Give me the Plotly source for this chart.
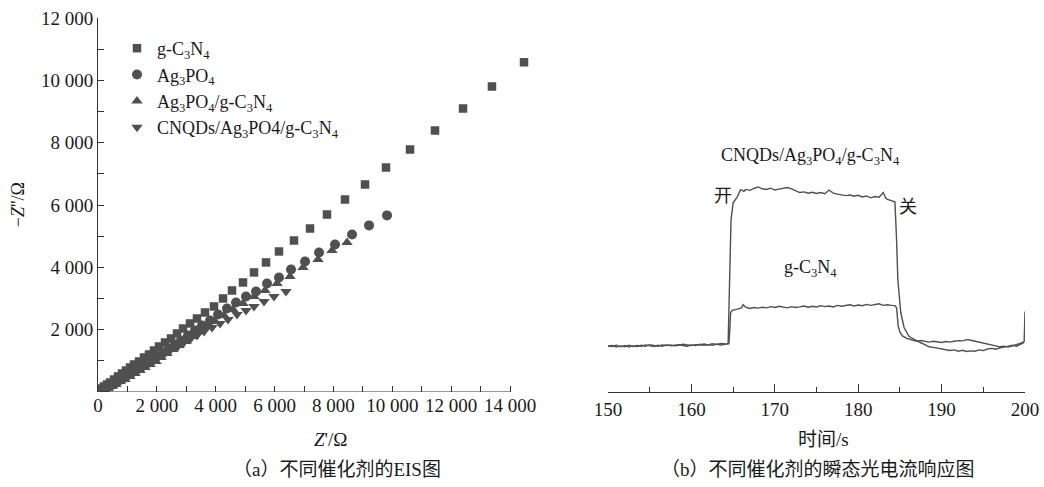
import plotly.graph_objects as go

# ---------------- (a) EIS Nyquist data ----------------
gcn_zre = [14475, 13386, 12403, 11451, 10602, 9786, 9073, 8393, 7781, 7204, 6660, 6150,
           5709, 5301, 4927, 4553, 4248, 3942, 3636, 3364, 3126, 2888, 2684, 2480, 2277,
           2073, 1903, 1733, 1563, 1393, 1223, 1087, 951, 816, 680, 544, 408, 306, 204, 102]
gcn_zim = [10577, 9806, 9100, 8394, 7784, 7206, 6661, 6180, 5698, 5248, 4863, 4510,
           4157, 3836, 3515, 3258, 3001, 2745, 2552, 2359, 2199, 2038, 1878, 1717, 1589,
           1461, 1332, 1204, 1107, 979, 883, 786, 690, 594, 498, 401, 305, 241, 177, 112]

ag_zre = [9820, 9209, 8631, 8053, 7510, 7034, 6558, 6150, 5743, 5369, 5029, 4689, 4383,
          4078, 3806, 3534, 3296, 3058, 2820, 2616, 2413, 2209, 2005, 1835, 1665, 1495,
          1325, 1155, 985, 849, 714, 578, 442, 306, 170, 68]
ag_zim = [5666, 5345, 5056, 4735, 4478, 4189, 3932, 3676, 3483, 3226, 3066, 2873, 2680,
          2488, 2295, 2135, 1974, 1814, 1653, 1525, 1396, 1268, 1140, 1011, 915, 819,
          722, 626, 530, 433, 369, 273, 209, 144, 80, 48]

aggcn_zre = [8461, 7951, 7476, 6966, 6524, 6082, 5675, 5301, 4927, 4587, 4281, 3976, 3704,
             3466, 3228, 2990, 2752, 2548, 2345, 2141, 1971, 1767, 1597, 1427, 1257, 1087,
             917, 748, 612, 476, 340, 204, 102]
aggcn_zim = [4799, 4542, 4253, 3996, 3707, 3483, 3258, 3066, 2841, 2648, 2456, 2263, 2102,
             1942, 1782, 1621, 1493, 1364, 1236, 1107, 979, 883, 786, 690, 594, 498,
             401, 337, 241, 177, 112, 48, 16]

cnqd_zre = [6388, 5981, 5641, 5301, 5029, 4723, 4417, 4146, 3874, 3602, 3364, 3126, 2888,
            2684, 2447, 2243, 2039, 1869, 1665, 1495, 1325, 1155, 985, 849, 714, 578,
            442, 306, 170, 68]
cnqd_zim = [3226, 3066, 2905, 2745, 2616, 2488, 2327, 2199, 2070, 1942, 1814, 1685, 1557,
            1428, 1332, 1204, 1107, 1011, 915, 819, 722, 626, 530, 465, 369, 305,
            209, 144, 80, 48]

eis_xticks = [0, 2000, 4000, 6000, 8000, 10000, 12000, 14000]
eis_xlabels = ["0", "2 000", "4 000", "6 000", "8 000", "10 000", "12 000", "14 000"]
eis_yticks = [2000, 4000, 6000, 8000, 10000, 12000]
eis_ylabels = ["2 000", "4 000", "6 000", "8 000", "10 000", "12 000"]

# ---------------- (b) transient photocurrent data ----------------
cnqd_t = [150.0, 150.5, 151.0, 151.5, 152.0, 152.5, 153.0, 153.5, 154.0, 154.5, 155.0,
          155.5, 156.0, 156.5, 157.0, 157.5, 158.0, 158.5, 159.0, 159.5, 160.0, 160.5,
          161.0, 161.5, 162.0, 162.5, 163.0, 163.5, 164.0, 164.4,
          164.55, 164.75, 165.0, 165.5, 165.9, 166.3,
          166.5, 167.0, 167.5, 168.0, 168.5, 169.0, 169.5, 170.0, 170.5, 171.0, 171.5,
          172.0, 172.5, 173.0, 173.5, 174.0, 174.5, 175.0, 175.5, 176.0, 176.5, 177.0,
          177.5, 178.0, 178.5, 179.0, 179.5, 180.0, 180.5, 181.0, 181.5, 182.0, 182.5,
          183.0, 183.3, 183.5, 184.0, 184.4,
          184.6, 184.75, 185.1, 185.5, 186.1, 187.1,
          187.5, 188.0, 188.5, 189.0, 189.5, 190.0, 190.5, 191.0, 191.5, 192.0, 192.5,
          193.0, 193.5, 194.0, 194.5, 195.0, 195.5, 196.0, 196.5, 197.0, 197.5, 198.0,
          198.5, 199.0, 199.5, 199.9]
cnqd_i = [1.48, 1.46, 1.50, 1.45, 1.49, 1.44, 1.48, 1.46, 1.50, 1.47, 1.52,
          1.49, 1.47, 1.51, 1.49, 1.51, 1.48, 1.50, 1.53, 1.51, 1.49, 1.52,
          1.51, 1.54, 1.51, 1.55, 1.52, 1.56, 1.54, 1.55,
          3.00, 5.53, 6.07, 6.26, 6.49, 6.44,
          6.50, 6.47, 6.53, 6.58, 6.52, 6.50, 6.54, 6.48, 6.51, 6.53, 6.56,
          6.52, 6.45, 6.40, 6.42, 6.38, 6.41, 6.37, 6.40, 6.36, 6.48, 6.38,
          6.35, 6.33, 6.30, 6.32, 6.28, 6.31, 6.26, 6.29, 6.23, 6.27, 6.25,
          6.40, 6.22, 6.18, 6.14, 6.10,
          4.89, 3.61, 2.55, 2.07, 1.78, 1.62,
          1.58, 1.52, 1.45, 1.43, 1.40, 1.38, 1.36, 1.33, 1.35, 1.31, 1.34,
          1.30, 1.32, 1.31, 1.35, 1.33, 1.38, 1.40, 1.37, 1.42, 1.44, 1.46,
          1.50, 1.47, 1.55, 1.59]

gcn_t = [150.0, 150.5, 151.0, 151.5, 152.0, 152.5, 153.0, 153.5, 154.0, 154.5, 155.0,
         155.5, 156.0, 156.5, 157.0, 157.5, 158.0, 158.5, 159.0, 159.5, 160.0, 160.5,
         161.0, 161.5, 162.0, 162.5, 163.0, 163.5, 164.0, 164.5,
         164.6, 164.7, 164.9, 165.3,
         165.5, 166.0, 166.2, 166.5, 167.0, 167.5, 168.0, 168.5, 169.0, 169.5, 170.0,
         170.5, 171.0, 171.5, 172.0, 172.5, 173.0, 173.5, 174.0, 174.5, 175.0, 175.5,
         176.0, 176.5, 177.0, 177.5, 178.0, 178.5, 179.0, 179.5, 180.0, 180.5, 181.0,
         181.5, 182.0, 182.5, 183.0, 183.5, 184.0, 184.4,
         184.6, 184.8, 185.0, 185.3, 185.8,
         186.5, 187.0, 187.5, 188.0, 188.5, 189.0, 189.5, 190.0, 190.5, 191.0, 191.5,
         192.0, 192.5, 193.0, 193.5, 194.0, 194.5, 195.0, 195.5, 196.0, 196.5, 197.0,
         197.5, 198.0, 198.5, 199.0, 199.5, 199.9, 200.0]
gcn_i = [1.47, 1.49, 1.44, 1.48, 1.45, 1.50, 1.46, 1.49, 1.47, 1.51, 1.48,
         1.46, 1.50, 1.47, 1.51, 1.48, 1.50, 1.52, 1.49, 1.47, 1.51, 1.49,
         1.53, 1.50, 1.52, 1.50, 1.54, 1.51, 1.53, 1.55,
         2.00, 2.55, 2.62, 2.64,
         2.66, 2.70, 2.80, 2.72, 2.68, 2.71, 2.69, 2.72, 2.70, 2.74, 2.71,
         2.75, 2.72, 2.70, 2.74, 2.71, 2.73, 2.76, 2.72, 2.75, 2.73, 2.77,
         2.74, 2.76, 2.73, 2.78, 2.75, 2.77, 2.80, 2.76, 2.79, 2.77, 2.81,
         2.78, 2.80, 2.83, 2.78, 2.80, 2.78, 2.77,
         2.70, 2.10, 1.92, 1.80, 1.72,
         1.66, 1.63, 1.65, 1.62, 1.60, 1.63, 1.61, 1.59, 1.62, 1.60, 1.63,
         1.65, 1.64, 1.68, 1.66, 1.63, 1.60, 1.56, 1.52, 1.49, 1.47, 1.45,
         1.47, 1.44, 1.48, 1.52, 1.57, 1.62, 2.58]

time_ticks = [150, 160, 170, 180, 190, 200]
time_labels = ["150", "160", "170", "180", "190", "200"]

MARK = "#505050"
INK = "#1a1a1a"
AXIS = "#333333"
SERIF = "Liberation Serif, Times New Roman, Noto Sans CJK SC, serif"
CJK = "Liberation Serif, Noto Sans CJK SC, serif"

fig = go.Figure()

fig.add_trace(go.Scatter(x=gcn_zre, y=gcn_zim, mode="markers", name="g-C<sub>3</sub>N<sub>4</sub>",
                         marker=dict(symbol="square", size=8.5, color=MARK),
                         xaxis="x", yaxis="y"))
fig.add_trace(go.Scatter(x=ag_zre, y=ag_zim, mode="markers", name="Ag<sub>3</sub>PO<sub>4</sub>",
                         marker=dict(symbol="circle", size=10, color=MARK), xaxis="x", yaxis="y"))
fig.add_trace(go.Scatter(x=aggcn_zre, y=aggcn_zim, mode="markers",
                         name="Ag<sub>3</sub>PO<sub>4</sub>/g-C<sub>3</sub>N<sub>4</sub>",
                         marker=dict(symbol="triangle-up", size=10, color=MARK), xaxis="x", yaxis="y"))
fig.add_trace(go.Scatter(x=cnqd_zre, y=cnqd_zim, mode="markers",
                         name="CNQDs/Ag<sub>3</sub>PO4/g-C<sub>3</sub>N<sub>4</sub>",
                         marker=dict(symbol="triangle-down", size=10, color=MARK), xaxis="x", yaxis="y"))

fig.add_trace(go.Scatter(x=cnqd_t, y=cnqd_i, mode="lines", showlegend=False,
                         line=dict(color=MARK, width=1.4), xaxis="x2", yaxis="y2"))
fig.add_trace(go.Scatter(x=gcn_t, y=gcn_i, mode="lines", showlegend=False,
                         line=dict(color=MARK, width=1.4), xaxis="x2", yaxis="y2"))

axis_common = dict(showgrid=False, zeroline=False, linecolor=AXIS,
                   linewidth=1, ticks="inside", tickcolor=AXIS,
                   tickfont=dict(family=SERIF, size=19, color=INK))

# the Z' axis leaves room past 14 000 for the last g-C3N4 point; its line stops at 14 000
fig.update_layout(
    width=1044, height=487,
    margin=dict(l=98, r=19, t=18, b=94.5, autoexpand=False),
    paper_bgcolor="white", plot_bgcolor="white",
    showlegend=True,
    legend=dict(x=0.0205, y=0.968, xanchor="left", yanchor="top",
                bgcolor="rgba(0,0,0,0)", tracegroupgap=0, itemwidth=30,
                font=dict(family=SERIF, size=18, color=INK)),
    xaxis=dict(domain=[0, 0.4667], range=[0, 14700], tickvals=eis_xticks, ticktext=eis_xlabels,
               showline=False, ticklen=6,
               minor=dict(tickvals=list(range(1000, 14000, 2000)), ticklen=6, ticks="inside",
                          tickcolor=AXIS),
               anchor="y", **axis_common),
    yaxis=dict(domain=[0, 1], range=[0, 12000], tickvals=eis_yticks, ticktext=eis_ylabels,
               showline=True, ticklen=6,
               minor=dict(dtick=1000, ticklen=6, ticks="inside", tickcolor=AXIS),
               anchor="x", **axis_common),
    xaxis2=dict(domain=[0.5502, 1], range=[150, 200], tickvals=time_ticks, ticktext=time_labels,
                showline=True, ticklen=8,
                minor=dict(dtick=5, ticklen=5, ticks="inside", tickcolor=AXIS),
                anchor="y2", **axis_common),
    yaxis2=dict(domain=[0, 1], range=[0, 12], visible=False, anchor="x2"),
    shapes=[dict(type="line", xref="x", yref="y", x0=0, x1=eis_xticks[-1], y0=0, y1=0,
                 line=dict(color=AXIS, width=1), layer="above")],
)

ann = [
    dict(text="\u2212<i>Z</i>''/\u03a9", x=-0.086, y=0.5, xref="paper", yref="paper",
         xanchor="center", yanchor="middle",
         textangle=-90, showarrow=False, font=dict(family=SERIF, size=18, color=INK)),
    dict(text="<i>Z</i>'/\u03a9", x=0.2503, y=-0.127, xref="paper", yref="paper",
         xanchor="center", yanchor="middle",
         showarrow=False, font=dict(family=SERIF, size=19, color=INK)),
    dict(text="\uff08a\uff09不同催化剂的EIS图", x=0.2575, y=-0.207, xref="paper", yref="paper",
         xanchor="center", yanchor="middle",
         showarrow=False, font=dict(family=CJK, size=19, color=INK)),
    dict(text="时间/s", x=0.7825, y=-0.127, xref="paper", yref="paper",
         xanchor="center", yanchor="middle",
         showarrow=False, font=dict(family=CJK, size=19, color=INK)),
    dict(text="\uff08b\uff09不同催化剂的瞬态光电流响应图", x=0.7769, y=-0.207, xref="paper", yref="paper",
         xanchor="center", yanchor="middle",
         showarrow=False, font=dict(family=CJK, size=19, color=INK)),
    dict(text="CNQDs/Ag<sub>3</sub>PO<sub>4</sub>/g-C<sub>3</sub>N<sub>4</sub>", x=174.3, y=7.55,
         xref="x2", yref="y2", xanchor="center", yanchor="middle",
         showarrow=False, font=dict(family=SERIF, size=18, color=INK)),
    dict(text="开", x=163.8, y=6.3, xref="x2", yref="y2", showarrow=False,
         xanchor="center", yanchor="middle", font=dict(family=CJK, size=18, color=INK)),
    dict(text="关", x=186.0, y=5.95, xref="x2", yref="y2", showarrow=False,
         xanchor="center", yanchor="middle", font=dict(family=CJK, size=18, color=INK)),
    dict(text="g-C<sub>3</sub>N<sub>4</sub>", x=174.3, y=3.95, xref="x2", yref="y2",
         xanchor="center", yanchor="middle",
         showarrow=False, font=dict(family=SERIF, size=18, color=INK)),
]
fig.update_layout(annotations=ann)

fig.write_html("out.html")
